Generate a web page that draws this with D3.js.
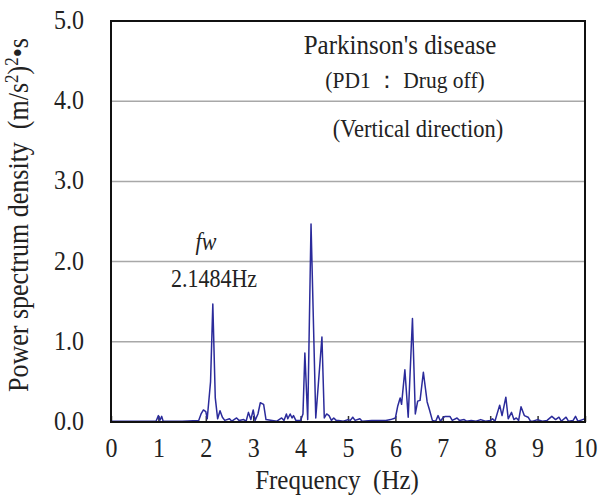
<!DOCTYPE html>
<html><head><meta charset="utf-8">
<script src="https://cdn.jsdelivr.net/npm/d3@7"></script>
<style>body{margin:0;background:#fff}svg{display:block}text{font-family:"Liberation Serif","Times New Roman",serif;fill:#222}</style>
</head><body><svg id="c" width="599" height="504"></svg>
<script>
const freqHz = [0,0.5,0.95,1.0,1.03,1.07,1.1,1.5,1.85,1.9,1.95,2.0,2.03,2.1,2.148,2.2,2.25,2.3,2.35,2.4,2.5,2.55,2.65,2.7,2.8,2.85,2.9,2.95,3.0,3.04,3.1,3.15,3.22,3.27,3.4,3.5,3.6,3.65,3.7,3.73,3.78,3.82,3.85,3.9,4.0,4.05,4.09,4.15,4.22,4.32,4.45,4.5,4.55,4.6,4.65,4.7,4.75,4.8,4.9,5.0,5.05,5.1,5.15,5.25,5.3,5.5,5.8,5.9,6.0,6.05,6.1,6.13,6.2,6.27,6.36,6.42,6.47,6.52,6.59,6.67,6.72,6.78,6.85,6.9,6.95,7.0,7.05,7.15,7.2,7.3,7.35,7.45,7.5,7.6,7.7,7.8,7.9,8.0,8.05,8.1,8.2,8.25,8.33,8.38,8.45,8.5,8.55,8.6,8.65,8.72,8.8,8.85,8.9,9.0,9.1,9.2,9.3,9.38,9.45,9.5,9.6,9.65,9.75,9.8,9.85,9.95,10];
const psd = [0.01,0.01,0.01,0.08,0.02,0.07,0.01,0.01,0.02,0.1,0.15,0.13,0.04,0.5,1.47,0.3,0.04,0.14,0.06,0.02,0.04,0.01,0.05,0.02,0.03,0.01,0.12,0.03,0.15,0.02,0.1,0.24,0.22,0.03,0.02,0.01,0.05,0.02,0.1,0.04,0.1,0.05,0.08,0.02,0.02,0.1,0.86,0.03,2.47,0.05,1.06,0.05,0.1,0.08,0.02,0.05,0.02,0.02,0.01,0.03,0.02,0.06,0.02,0.04,0.01,0.02,0.02,0.03,0.05,0.2,0.3,0.22,0.65,0.06,1.29,0.1,0.26,0.27,0.62,0.25,0.15,0.02,0.01,0.08,0.01,0.05,0.07,0.07,0.02,0.05,0.02,0.03,0.01,0.02,0.01,0.03,0.01,0.02,0.04,0.01,0.21,0.08,0.31,0.04,0.12,0.03,0.05,0.02,0.19,0.08,0.06,0.01,0.01,0.03,0.01,0.02,0.07,0.03,0.06,0.01,0.06,0.01,0.02,0.07,0.01,0.03,0.04];
const xTicks = [0,1,2,3,4,5,6,7,8,9,10];
const yTicks = [0,1,2,3,4,5];
const titleLines = ["Parkinson's disease", "(PD1 \uFF1A Drug off)", "(Vertical direction)"];

const SY = 1.1; // vertical stretch of lettering
const svg = d3.select("#c");
const L = 111, R = 585, T = 21, B = 422;
const x = d3.scaleLinear().domain([0,10]).range([L,R]);
const y = d3.scaleLinear().domain([0,5]).range([B,T]);

svg.append("g").selectAll("line").data(yTicks.filter(d=>d>0 && d<5)).join("line")
  .attr("x1",L).attr("x2",R).attr("y1",d=>y(d)).attr("y2",d=>y(d))
  .attr("stroke","#a8a8a8").attr("stroke-width",1.5);

const xa = svg.append("g").attr("transform",`translate(0,${B})`)
  .call(d3.axisBottom(x).tickValues(xTicks).tickSizeInner(-6).tickSizeOuter(0).tickPadding(15).tickFormat(d3.format("d")));
xa.select(".domain").remove();
xa.selectAll("line").attr("stroke","#333").attr("stroke-width",1.5);
xa.selectAll("text").attr("font-size",24).attr("font-family","Liberation Serif").attr("fill","#222")
  .attr("transform",`scale(1,${SY})`);

const ya = svg.append("g").attr("transform",`translate(${L},0)`)
  .call(d3.axisLeft(y).tickValues(yTicks).tickSize(0).tickPadding(27).tickFormat(d3.format(".1f")));
ya.select(".domain").remove();
ya.selectAll("text").attr("font-size",24).attr("font-family","Liberation Serif").attr("fill","#222")
  .attr("dy","0.28em").attr("transform",`scale(1,${SY})`);

svg.append("path").datum(freqHz.map((f,i)=>[f,psd[i]]))
  .attr("fill","none").attr("stroke","#2b2b9b").attr("stroke-width",1.5).attr("stroke-linejoin","round")
  .attr("d", d3.line().x(d=>x(d[0])).y(d=>y(d[1])));

svg.append("rect").attr("x",L).attr("y",T).attr("width",R-L).attr("height",B-T)
  .attr("fill","none").attr("stroke","#111").attr("stroke-width",2);

function label(tx, ty, size, str, italic){
  const t = svg.append("text").attr("transform",`translate(${tx},${ty}) scale(1,${SY})`)
    .attr("text-anchor","middle").attr("font-size",size).text(str);
  if (italic) t.attr("font-style","italic");
  return t;
}
label(400, 54, 25, titleLines[0]);
label(405, 88, 21.5, titleLines[1]);
label(418, 137, 22.5, titleLines[2]);
label(206, 250, 22, "fw", true);
label(214, 287, 22, "2.1484Hz");
label(337, 489, 25, "Frequency\u00A0\u00A0(Hz)");

const yt = svg.append("text").attr("transform",`translate(28,215) scale(${SY},1) rotate(-90)`)
  .attr("text-anchor","middle").attr("font-size",26);
yt.append("tspan").text("Power spectrum density\u00A0\u00A0(m/s");
yt.append("tspan").attr("font-size",17).attr("dy",-9).text("2");
yt.append("tspan").attr("dy",9).text(")");
yt.append("tspan").attr("font-size",17).attr("dy",-9).text("2");
yt.append("tspan").attr("dy",9).text("\u2022s");
</script></body></html>
